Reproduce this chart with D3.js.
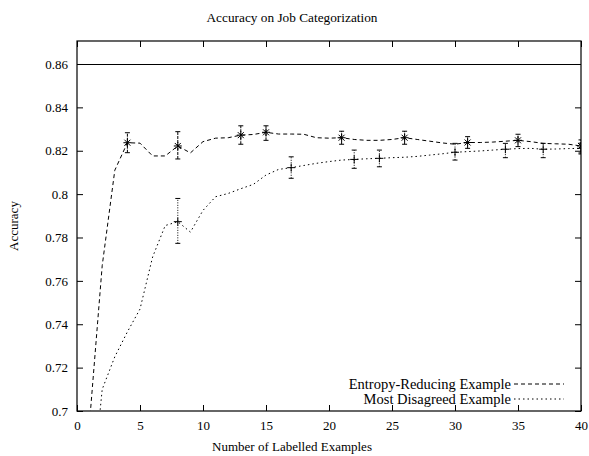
<!DOCTYPE html>
<html>
<head>
<meta charset="utf-8">
<script src="https://d3js.org/d3.v7.min.js"></script>
<style>
  body { margin: 0; background: #fff; }
  text { font-family: "Liberation Serif", "Times New Roman", serif; fill: #000; }
</style>
</head>
<body>
<div id="chart"></div>
<script>
// x = number of labelled examples (1..40)
var examples = d3.range(1, 41);

var entropyAcc = [0.695, 0.767, 0.811, 0.8237, 0.8235, 0.8176, 0.8176, 0.8222, 0.819, 0.8242,
  0.8258, 0.826, 0.8272, 0.8275, 0.8285, 0.8277, 0.8277, 0.8276, 0.826, 0.8258,
  0.826, 0.8252, 0.8248, 0.8248, 0.8252, 0.826, 0.8252, 0.8244, 0.8236, 0.823,
  0.8238, 0.8238, 0.824, 0.8244, 0.8248, 0.8242, 0.8234, 0.8232, 0.823, 0.8222];

var disagreeAcc = [0.651, 0.710, 0.725, 0.7365, 0.747, 0.771, 0.7855, 0.7873, 0.7825, 0.7925,
  0.7988, 0.8003, 0.8025, 0.8045, 0.8088, 0.8114, 0.8122, 0.8132, 0.8142, 0.815,
  0.8157, 0.816, 0.8163, 0.8165, 0.8168, 0.817, 0.8174, 0.818, 0.8186, 0.8193,
  0.8196, 0.8199, 0.8203, 0.8207, 0.821, 0.8211, 0.8207, 0.8208, 0.821, 0.8211];

// error bars: x, low, high
var entropyErrX = [4, 8, 13, 15, 21, 26, 31, 35, 40];
var entropyErrLo = [0.8191, 0.8162, 0.823, 0.8248, 0.823, 0.823, 0.8211, 0.8219, 0.819];
var entropyErrHi = [0.8283, 0.8288, 0.8315, 0.8315, 0.829, 0.829, 0.8265, 0.8276, 0.825];

var disagreeErrX = [8, 17, 22, 24, 30, 34, 37, 40];
var disagreeErrLo = [0.7773, 0.8073, 0.8119, 0.8126, 0.8157, 0.8168, 0.8168, 0.8185];
var disagreeErrHi = [0.798, 0.8172, 0.8203, 0.8203, 0.8234, 0.8234, 0.8234, 0.8235];

var refAcc = 0.86;

var xTicks = d3.range(0, 41, 5);
var yTicks = [0.7, 0.72, 0.74, 0.76, 0.78, 0.8, 0.82, 0.84, 0.86];

var seriesNames = ["Entropy-Reducing Example", "Most Disagreed Example"];

var W = 589, H = 456;
var margin = {top: 41, right: 8, bottom: 45, left: 77};
var width = W - margin.left - margin.right,
    height = H - margin.top - margin.bottom;

var svg = d3.select("#chart").append("svg")
    .attr("width", W)
    .attr("height", H);

var g = svg.append("g")
    .attr("transform", "translate(" + margin.left + "," + margin.top + ")");

var x = d3.scaleLinear().domain([0, 40]).range([0, width]);
var y = d3.scaleLinear().domain([0.7, 0.8706]).range([height, 0]);

// clip for curves
g.append("clipPath").attr("id", "clip")
  .append("rect").attr("width", width).attr("height", height);

// ticks (inward, mirrored)
var tickLen = 6;
g.append("g")
    .attr("transform", "translate(0," + height + ")")
    .call(d3.axisBottom(x).tickValues(xTicks).tickSize(-tickLen).tickPadding(tickLen + 4).tickFormat(d3.format("d")))
    .call(function(a){ a.select(".domain").remove(); a.selectAll("text").style("font-size", "13px").attr("font-family", null); });
g.append("g")
    .call(d3.axisTop(x).tickValues(xTicks).tickSize(-tickLen).tickFormat(""))
    .call(function(a){ a.select(".domain").remove(); });
g.append("g")
    .call(d3.axisLeft(y).tickValues(yTicks).tickSize(-tickLen).tickPadding(tickLen + 3).tickFormat(function(d){ return d3.format("")(+d.toFixed(2)); }))
    .call(function(a){ a.select(".domain").remove(); a.selectAll("text").style("font-size", "13px").attr("font-family", null); });
g.append("g")
    .attr("transform", "translate(" + width + ",0)")
    .call(d3.axisRight(y).tickValues(yTicks).tickSize(-tickLen).tickFormat(""))
    .call(function(a){ a.select(".domain").remove(); });

g.selectAll(".tick line").attr("stroke", "#000");

// reference line
g.append("line")
    .attr("x1", 0).attr("x2", width)
    .attr("y1", Math.round(y(refAcc)) + 0.5).attr("y2", Math.round(y(refAcc)) + 0.5)
    .attr("stroke", "#000").attr("stroke-width", 1);

var line = d3.line()
    .x(function(d){ return x(d[0]); })
    .y(function(d){ return y(d[1]); });

var plot = g.append("g").attr("clip-path", "url(#clip)");

plot.append("path")
    .datum(examples.map(function(v, i){ return [v, entropyAcc[i]]; }))
    .attr("d", line)
    .attr("fill", "none").attr("stroke", "#000").attr("stroke-width", 1)
    .attr("stroke-dasharray", "4,3");

plot.append("path")
    .datum(examples.map(function(v, i){ return [v, disagreeAcc[i]]; }))
    .attr("d", line)
    .attr("fill", "none").attr("stroke", "#000").attr("stroke-width", 1)
    .attr("stroke-dasharray", "1.5,3");

// error bars + markers
function drawErr(xs, lo, hi, vals, dash, marker) {
  var grp = plot.append("g");
  xs.forEach(function(v, i){
    var px = x(v), c = vals[v - 1];
    grp.append("line")
        .attr("x1", px).attr("x2", px).attr("y1", y(lo[i])).attr("y2", y(hi[i]))
        .attr("stroke", "#000").attr("stroke-width", 1).attr("stroke-dasharray", dash);
    [lo[i], hi[i]].forEach(function(e){
      grp.append("line")
          .attr("x1", px - 2.5).attr("x2", px + 2.5).attr("y1", y(e)).attr("y2", y(e))
          .attr("stroke", "#000").attr("stroke-width", 1);
    });
    var py = y(c), s = 4;
    grp.append("line").attr("x1", px - s).attr("x2", px + s).attr("y1", py).attr("y2", py)
        .attr("stroke", "#000").attr("stroke-width", 1);
    grp.append("line").attr("x1", px).attr("x2", px).attr("y1", py - s).attr("y2", py + s)
        .attr("stroke", "#000").attr("stroke-width", 1);
    if (marker == "star") {
      grp.append("line").attr("x1", px - 3).attr("x2", px + 3).attr("y1", py - 3).attr("y2", py + 3)
          .attr("stroke", "#000").attr("stroke-width", 1);
      grp.append("line").attr("x1", px - 3).attr("x2", px + 3).attr("y1", py + 3).attr("y2", py - 3)
          .attr("stroke", "#000").attr("stroke-width", 1);
    }
  });
}
drawErr(entropyErrX, entropyErrLo, entropyErrHi, entropyAcc, "3,1", "star");
drawErr(disagreeErrX, disagreeErrLo, disagreeErrHi, disagreeAcc, "1,1.5", "plus");

// border
g.append("rect")
    .attr("width", width).attr("height", height)
    .attr("fill", "none").attr("stroke", "#000").attr("stroke-width", 1.2);

// legend
var legend = g.append("g").attr("transform", "translate(" + (width - 70) + "," + (height - 27) + ")");
var dashes = ["4,3", "1.5,3"];
seriesNames.forEach(function(name, i){
  var row = legend.append("g").attr("transform", "translate(0," + (i * 15) + ")");
  row.append("text").attr("x", 0).attr("y", 5)
      .attr("text-anchor", "end").style("font-size", "14.5px").text(name);
  row.append("line").attr("x1", 3).attr("x2", 53).attr("y1", 0).attr("y2", 0)
      .attr("stroke", "#000").attr("stroke-width", 1).attr("stroke-dasharray", dashes[i]);
});

// titles
svg.append("text").attr("x", 292).attr("y", 22)
    .attr("text-anchor", "middle").style("font-size", "13.3px")
    .text("Accuracy on Job Categorization");
svg.append("text").attr("x", 292).attr("y", 451)
    .attr("text-anchor", "middle").style("font-size", "13px")
    .text("Number of Labelled Examples");
svg.append("text")
    .attr("transform", "translate(18," + (margin.top + height / 2) + ") rotate(-90)")
    .attr("text-anchor", "middle").style("font-size", "13px")
    .text("Accuracy");
</script>
</body>
</html>
